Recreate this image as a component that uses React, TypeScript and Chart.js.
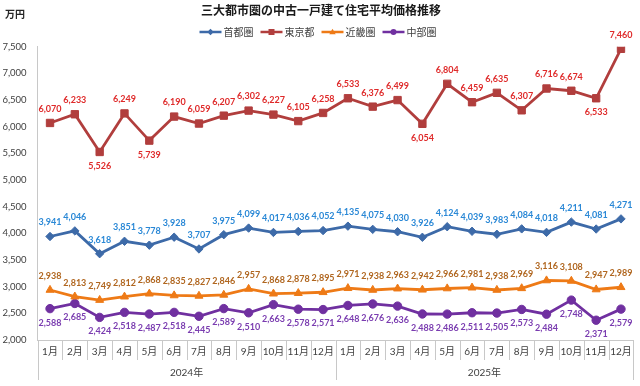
import React, { useEffect, useRef } from "react";
import { Chart, registerables } from "chart.js";

Chart.register(...registerables);

const TITLE = "三大都市圏の中古一戸建て住宅平均価格推移";
const UNIT = "万円";
const months = [
  "1月", "2月", "3月", "4月", "5月", "6月", "7月", "8月", "9月", "10月", "11月", "12月",
  "1月", "2月", "3月", "4月", "5月", "6月", "7月", "8月", "9月", "10月", "11月", "12月",
];
const years = ["2024年", "2025年"];
const seriesNames = ["首都圏", "東京都", "近畿圏", "中部圏"];

const shutoken = [3941, 4046, 3618, 3851, 3778, 3928, 3707, 3975, 4099, 4017, 4036, 4052,
  4135, 4075, 4030, 3926, 4124, 4039, 3983, 4084, 4018, 4211, 4081, 4271];
const tokyo = [6070, 6233, 5526, 6249, 5739, 6190, 6059, 6207, 6302, 6227, 6105, 6258,
  6533, 6376, 6499, 6054, 6804, 6459, 6635, 6307, 6716, 6674, 6533, 7460];
const kinki = [2938, 2813, 2749, 2812, 2868, 2835, 2827, 2846, 2957, 2868, 2878, 2895,
  2971, 2938, 2963, 2942, 2966, 2981, 2938, 2969, 3116, 3108, 2947, 2989];
const chubu = [2588, 2685, 2424, 2518, 2487, 2518, 2445, 2589, 2510, 2663, 2578, 2571,
  2648, 2676, 2636, 2488, 2486, 2511, 2505, 2573, 2484, 2748, 2371, 2579];

// label placement: -1 above, +1 below
const tokyoBelowIdx = [2, 4, 15, 22];

const LINE_COLORS = ["#3d6aa8", "#b13e3d", "#ee7a16", "#7030a0"];
const LABEL_COLORS = ["#2a88d6", "#df2a2a", "#b0661f", "#7a3cb0"];
const POINT_STYLES = ["rectRot", "rect", "triangle", "circle"];
const POINT_RADII = [4.2, 5.2, 4.6, 4.2];

const FONT = "Lato, 'Noto Sans CJK JP', sans-serif";
const JFONT = "'Noto Sans CJK JP', sans-serif";

const fmt = (v: number) => v.toLocaleString("en-US");

const overlayPlugin = {
  id: "overlay",
  afterDatasetsDraw(chart: any) {
    const ctx = chart.ctx;
    ctx.save();
    ctx.font = `bold 9px ${FONT}`;
    ctx.textAlign = "center";
    ctx.textBaseline = "middle";
    chart.data.datasets.forEach((ds: any, di: number) => {
      const meta = chart.getDatasetMeta(di);
      meta.data.forEach((pt: any, i: number) => {
        let dir = -1;
        if (di === 3) dir = 1;
        if (di === 1 && tokyoBelowIdx.includes(i)) dir = 1;
        ctx.fillStyle = LABEL_COLORS[di];
        ctx.fillText(fmt(ds.data[i]), pt.x, pt.y + dir * 14);
      });
    });
    ctx.restore();
  },
  afterDraw(chart: any) {
    const ctx = chart.ctx;
    const area = chart.chartArea;
    const xs = chart.scales.x;
    const n = months.length;
    const w = (area.right - area.left) / n;
    ctx.save();

    // title
    ctx.fillStyle = "#1a1a1a";
    ctx.font = `bold 12px ${JFONT}`;
    ctx.textAlign = "center";
    ctx.textBaseline = "middle";
    ctx.fillText(TITLE, 321, 10);

    // unit
    ctx.font = `bold 10px ${JFONT}`;
    ctx.textAlign = "left";
    ctx.fillStyle = "#262626";
    ctx.fillText(UNIT, 5, 14);

    // legend
    ctx.font = `10px ${JFONT}`;
    const lineLen = 22;
    const gapLT = 2;
    const gapItem = 7;
    const widths = seriesNames.map((s) => ctx.measureText(s).width);
    const total = widths.reduce((a, b) => a + b, 0) + seriesNames.length * (lineLen + gapLT) + (seriesNames.length - 1) * gapItem;
    let lx = 318 - total / 2;
    const ly = 32;
    seriesNames.forEach((name, i) => {
      ctx.strokeStyle = LINE_COLORS[i];
      ctx.lineWidth = 2.5;
      ctx.beginPath();
      ctx.moveTo(lx, ly);
      ctx.lineTo(lx + lineLen, ly);
      ctx.stroke();
      ctx.fillStyle = LINE_COLORS[i];
      const cx = lx + lineLen / 2;
      ctx.beginPath();
      const r = 3.2;
      if (i === 0) {
        ctx.moveTo(cx, ly - r); ctx.lineTo(cx + r, ly); ctx.lineTo(cx, ly + r); ctx.lineTo(cx - r, ly); ctx.closePath();
      } else if (i === 1) {
        ctx.rect(cx - 3, ly - 3, 6, 6);
      } else if (i === 2) {
        ctx.moveTo(cx, ly - r); ctx.lineTo(cx + r, ly + r * 0.7); ctx.lineTo(cx - r, ly + r * 0.7); ctx.closePath();
      } else {
        ctx.arc(cx, ly, 3, 0, Math.PI * 2);
      }
      ctx.fill();
      ctx.fillStyle = "#404040";
      ctx.textAlign = "left";
      ctx.fillText(name, lx + lineLen + gapLT, ly + 0.5);
      lx += lineLen + gapLT + widths[i] + gapItem;
    });

    // x category separators
    const base = area.bottom;
    ctx.strokeStyle = "#c8c8c8";
    ctx.lineWidth = 1;
    for (let k = 0; k <= n; k++) {
      const bx = Math.round(xs.getPixelForValue(0) - w / 2 + k * w) + 0.5;
      const isYear = k === 0 || k === 12 || k === n;
      ctx.beginPath();
      ctx.moveTo(bx, base);
      ctx.lineTo(bx, base + (isYear ? 40 : 20));
      ctx.stroke();
    }

    // year labels
    ctx.fillStyle = "#404040";
    ctx.font = `10px ${FONT}`;
    ctx.textAlign = "center";
    years.forEach((y, yi) => {
      const cx = (xs.getPixelForValue(yi * 12) + xs.getPixelForValue(yi * 12 + 11)) / 2;
      ctx.fillText(y, cx, 373);
    });
    ctx.restore();
  },
};

export default function App() {
  const ref = useRef<HTMLCanvasElement | null>(null);
  useEffect(() => {
    if (!ref.current) return;
    const all = [shutoken, tokyo, kinki, chubu];
    const chart = new Chart(ref.current, {
      type: "line",
      data: {
        labels: months,
        datasets: all.map((d, i) => ({
          label: seriesNames[i],
          data: d,
          borderColor: LINE_COLORS[i],
          backgroundColor: LINE_COLORS[i],
          pointBackgroundColor: LINE_COLORS[i],
          pointBorderColor: LINE_COLORS[i],
          pointStyle: POINT_STYLES[i] as any,
          pointRadius: POINT_RADII[i],
          pointBorderWidth: 1,
          borderWidth: 2.8,
          tension: 0,
          fill: false,
        })),
      },
      options: {
        animation: false,
        responsive: true,
        maintainAspectRatio: false,
        layout: { padding: { top: 46.7, right: 6.6, bottom: 0, left: 0 } },
        plugins: {
          legend: { display: false },
          title: { display: false },
          tooltip: { enabled: false },
        },
        scales: {
          x: {
            type: "category",
            offset: true,
            grid: { display: false, drawTicks: false },
            border: { display: true, color: "#c8c8c8", width: 1 },
            ticks: {
              autoSkip: false,
              maxRotation: 0,
              padding: 6,
              color: "#404040",
              font: { family: FONT, size: 10 },
            },
            afterFit: (s: any) => { s.height = 46; },
          },
          y: {
            min: 2000,
            max: 7500,
            grid: { display: false, drawTicks: false },
            border: { display: true, color: "#c8c8c8", width: 1 },
            ticks: {
              stepSize: 500,
              padding: 11,
              color: "#404040",
              font: { family: FONT, size: 9.5 },
              callback: (v: any) => fmt(Number(v)),
            },
            afterFit: (s: any) => { s.width = 37.6; },
          },
        },
      },
      plugins: [overlayPlugin],
    });
    return () => chart.destroy();
  }, []);
  return (
    <div style={{ position: "absolute", left: 0, top: 0, width: 640, height: 386, background: "#fff" }}>
      <canvas ref={ref} />
    </div>
  );
}
